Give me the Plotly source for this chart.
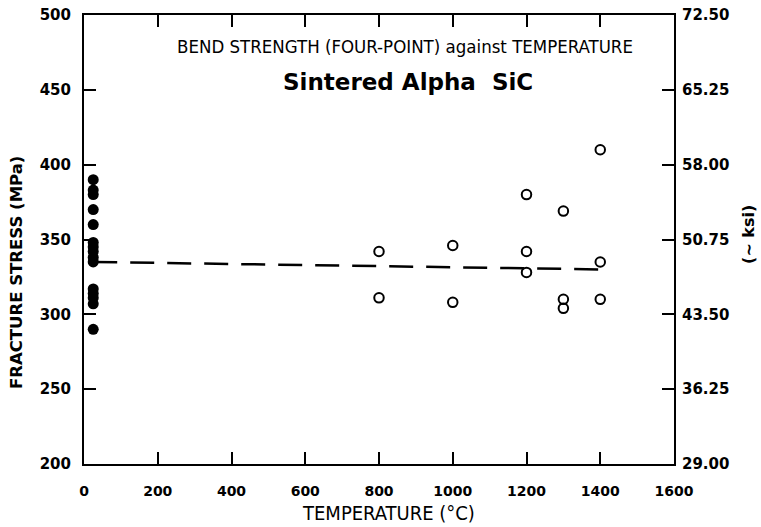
import plotly.graph_objects as go

# Data
rt_temps = [25] * 15
rt_stress = [390, 383, 380, 370, 360, 348, 345, 342, 338, 335, 317, 314, 311, 307, 290]

ht_temps = [800, 800, 1000, 1000, 1200, 1200, 1200, 1300, 1300, 1300, 1400, 1400, 1400]
ht_stress = [342, 311, 346, 308, 380, 342, 328, 369, 310, 304, 410, 335, 310]

fit_temps = [25, 1400]
fit_stress = [335, 330]

x_ticks = [0, 200, 400, 600, 800, 1000, 1200, 1400, 1600]
y_ticks = [200, 250, 300, 350, 400, 450, 500]
ksi_ticks = [29.00, 36.25, 43.50, 50.75, 58.00, 65.25, 72.50]
ksi_labels = ["29.00", "36.25", "43.50", "50.75", "58.00", "65.25", "72.50"]

bold = "DejaVu Sans, sans-serif"
y_font = dict(family=bold, size=15, color="black", weight="bold")
x_font = dict(family=bold, size=14, color="black", weight="bold")
narrow = "Liberation Sans Narrow, Arial Narrow, DejaVu Sans Condensed, sans-serif"

L, R, T, B = 84, 87, 15, 63
W, H = 761, 527

fig = go.Figure()

fig.add_trace(go.Scatter(
    x=fit_temps, y=fit_stress, mode="lines",
    line=dict(color="black", width=2.5, dash="24px,13px"),
    showlegend=False, hoverinfo="skip"))

fig.add_trace(go.Scatter(
    x=rt_temps, y=rt_stress, mode="markers",
    marker=dict(symbol="circle", size=11, color="black"),
    showlegend=False))

fig.add_trace(go.Scatter(
    x=ht_temps, y=ht_stress, mode="markers",
    marker=dict(symbol="circle-open", size=9.5, color="black", line=dict(width=2, color="black")),
    showlegend=False))

# dummy trace for right axis
fig.add_trace(go.Scatter(x=[None], y=[None], yaxis="y2", showlegend=False))

fig.update_layout(
    width=W, height=H,
    margin=dict(l=L, r=R, t=T, b=B, autoexpand=False),
    paper_bgcolor="white", plot_bgcolor="white",
    xaxis=dict(
        range=[0, 1600], tickvals=x_ticks, ticks="inside", ticklen=12, tickwidth=2,
        tickcolor="black", showline=True, linecolor="black", linewidth=2, mirror="ticks",
        showgrid=False, zeroline=False, tickfont=x_font, automargin=False,
        ticklabelstandoff=13,
    ),
    yaxis=dict(
        range=[200, 500], tickvals=y_ticks, ticks="inside", ticklen=12, tickwidth=2,
        tickcolor="black", showline=True, linecolor="black", linewidth=2, mirror="ticks",
        showgrid=False, zeroline=False, tickfont=y_font, automargin=False,
        ticklabelstandoff=8,
    ),
    yaxis2=dict(
        range=[29, 72.5], tickvals=ksi_ticks, ticktext=ksi_labels, overlaying="y", side="right",
        ticks="", showline=False, showgrid=False, zeroline=False, tickfont=y_font,
        automargin=False, ticklabelstandoff=7,
    ),
)

pw = W - L - R
ph = H - T - B


def px2paper(px, py):
    return (px - L) / pw, 1 - (py - T) / ph


texts = [
    ("BEND STRENGTH (FOUR-POINT) against TEMPERATURE", 405, 47, 0,
     dict(family=narrow, size=18.5, color="black")),
    ("<b>Sintered Alpha  SiC</b>", 408, 82, 0,
     dict(family=bold, size=23, color="black")),
    ("TEMPERATURE (°C)", 388, 513, 0,
     dict(family=narrow, size=20, color="black")),
    ("<b>FRACTURE STRESS (MPa)</b>", 16, 273, -90,
     dict(family=bold, size=16.5, color="black")),
    ("<b>(∼ ksi)</b>", 749, 235, -90,
     dict(family=bold, size=16, color="black")),
]
for txt, px, py, ang, font in texts:
    xa, ya = px2paper(px, py)
    fig.add_annotation(text=txt, x=xa, y=ya, xref="paper", yref="paper",
                       xanchor="center", yanchor="middle", textangle=ang,
                       showarrow=False, font=font)

fig.write_html("out.html", config={"displayModeBar": False},
               post_script="document.body.style.margin='0';")
